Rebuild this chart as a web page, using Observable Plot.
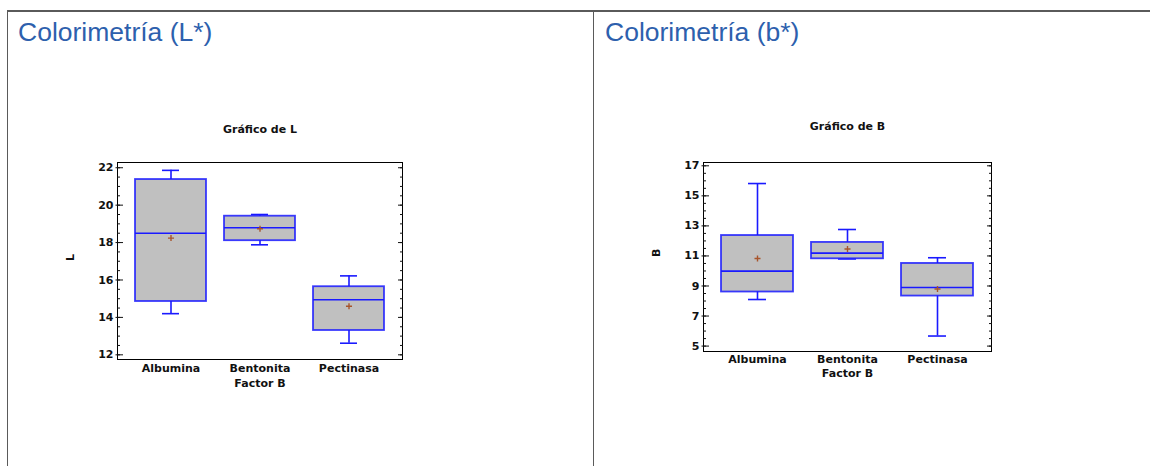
<!DOCTYPE html>
<html>
<head>
<meta charset="utf-8">
<script src="https://cdn.jsdelivr.net/npm/d3@7"></script>
<script src="https://cdn.jsdelivr.net/npm/@observablehq/plot@0.6"></script>
<style>
  html, body { margin: 0; padding: 0; background: #fff; width: 1150px; height: 466px; overflow: hidden; position: relative; }
  .line { position: absolute; background: #5a5a5a; }
  .ptitle { position: absolute; font-family: "Liberation Sans", Arial, sans-serif; font-size: 26.5px; color: #2d60ad; white-space: nowrap; line-height: 1; }
  .chart { position: absolute; }
</style>
</head>
<body>
<div class="line" style="left:7px; top:10px; width:1143px; height:2px;"></div>
<div class="line" style="left:7px; top:10px; width:1px; height:456px;"></div>
<div class="line" style="left:593px; top:10px; width:1px; height:456px;"></div>
<div class="ptitle" id="t1" style="left:18px; top:19px;"></div>
<div class="ptitle" id="t2" style="left:605px; top:19px;"></div>
<div class="chart" id="c1" style="left:40px; top:110px;"></div>
<div class="chart" id="c2" style="left:627px; top:110px;"></div>
<script>
// ---- Data ----
const panelTitles = ["Colorimetría (L*)", "Colorimetría (b*)"];
const categories = ["Albumina", "Bentonita", "Pectinasa"];
const xLabel = "Factor B";

// L
const chartTitleL = "Gráfico de L";
const yLabelL = "L";
const lowL  = [14.2, 17.88, 12.62];
const q1L   = [14.85, 18.1, 13.3];
const medL  = [18.5, 18.79, 14.94];
const q3L   = [21.37, 19.41, 15.64];
const highL = [21.86, 19.5, 16.22];
const meanL = [18.24, 18.74, 14.6];
const yDomainL = [11.75, 22.28];
const yTicksL = [12, 14, 16, 18, 20, 22];

// B
const chartTitleB = "Gráfico de B";
const yLabelB = "B";
const lowB  = [8.1, 10.8, 5.67];
const q1B   = [8.6, 10.81, 8.33];
const medB  = [9.99, 11.19, 8.9];
const q3B   = [12.36, 11.9, 10.5];
const highB = [15.82, 12.76, 10.88];
const meanB = [10.83, 11.46, 8.8];
const yDomainB = [4.64, 17.22];
const yTicksB = [5, 7, 9, 11, 13, 15, 17];

document.getElementById("t1").textContent = panelTitles[0];
document.getElementById("t2").textContent = panelTitles[1];

function minorTicks(domain, step) {
  const out = [];
  for (let v = Math.ceil(domain[0] / step) * step; v <= domain[1] + 1e-9; v += step) out.push(+v.toFixed(3));
  return out;
}

function boxChart(cfg) {
  const rows = categories.map((c, i) => ({
    cat: c, low: cfg.low[i], q1: cfg.q1[i], med: cfg.med[i], q3: cfg.q3[i], high: cfg.high[i], mean: cfg.mean[i]
  }));
  const minors = minorTicks(cfg.domain, 0.5);
  const blue = "#1a1aff";
  return Plot.plot({
    width: 380,
    height: 290,
    marginLeft: cfg.ml,
    marginRight: cfg.mr,
    marginTop: cfg.mt,
    marginBottom: cfg.mb,
    style: { fontFamily: "'DejaVu Sans', sans-serif", fontSize: "11px", fontWeight: "bold", color: "#111", background: "transparent" },
    x: { type: "band", domain: categories, paddingInner: 0.2, paddingOuter: 0.19, label: null },
    y: { domain: cfg.domain, label: null },
    marks: [
      Plot.ruleX(rows, { x: "cat", y1: "low", y2: "high", stroke: blue, strokeWidth: 1.6 }),
      Plot.tickY(rows, { x: "cat", y: "low", stroke: blue, strokeWidth: 1.6, inset: 27 }),
      Plot.tickY(rows, { x: "cat", y: "high", stroke: blue, strokeWidth: 1.6, inset: 27 }),
      Plot.barY(rows, { x: "cat", y1: "q1", y2: "q3", fill: "#c0c0c0", stroke: blue, strokeWidth: 1.8, strokeOpacity: 0.85 }),
      Plot.tickY(rows, { x: "cat", y: "med", stroke: blue, strokeWidth: 1.6 }),
      Plot.dot(rows, { x: "cat", y: "mean", symbol: "plus", r: 2.1, stroke: "#a8552c", strokeWidth: 1.4 }),
      Plot.frame({ stroke: "#000", strokeWidth: 1 }),
      Plot.axisY({ ticks: cfg.ticks, tickSize: 1.5, tickPadding: 2.5, anchor: "left", label: null }),
      Plot.axisY({ ticks: cfg.ticks, tickSize: -6, text: null, anchor: "left", label: null }),
      Plot.axisY({ ticks: minors, tickSize: -3, text: null, anchor: "left", label: null }),
      Plot.axisY({ ticks: cfg.ticks, tickSize: -5, text: null, anchor: "right", label: null }),
      Plot.axisY({ ticks: minors, tickSize: -3, text: null, anchor: "right", label: null }),
      Plot.axisX({ tickSize: 0, tickPadding: cfg.xpad, label: null, fontSize: 11 }),
      Plot.text([xLabel], { frameAnchor: "bottom", dy: cfg.xlabDy, fontSize: 11, fontWeight: "bold", fill: "#111" }),
      Plot.text([cfg.title], { frameAnchor: "top", dy: cfg.titleDy, fontSize: 11, fontWeight: "bold", fill: "#111" }),
      Plot.text([cfg.ylabel], { frameAnchor: "left", dx: -47, rotate: -90, fontSize: 11, fontWeight: "bold", fill: "#111" })
    ]
  });
}

document.getElementById("c1").appendChild(boxChart({
  low: lowL, q1: q1L, med: medL, q3: q3L, high: highL, mean: meanL,
  domain: yDomainL, ticks: yTicksL, title: chartTitleL, ylabel: yLabelL,
  ml: 77, mr: 18, mt: 52, mb: 41, xpad: 5, xlabDy: 27, titleDy: -37
}));
document.getElementById("c2").appendChild(boxChart({
  low: lowB, q1: q1B, med: medB, q3: q3B, high: highB, mean: meanB,
  domain: yDomainB, ticks: yTicksB, title: chartTitleB, ylabel: yLabelB,
  ml: 76, mr: 16, mt: 52, mb: 49, xpad: 4, xlabDy: 25, titleDy: -40
}));
</script>
</body>
</html>
